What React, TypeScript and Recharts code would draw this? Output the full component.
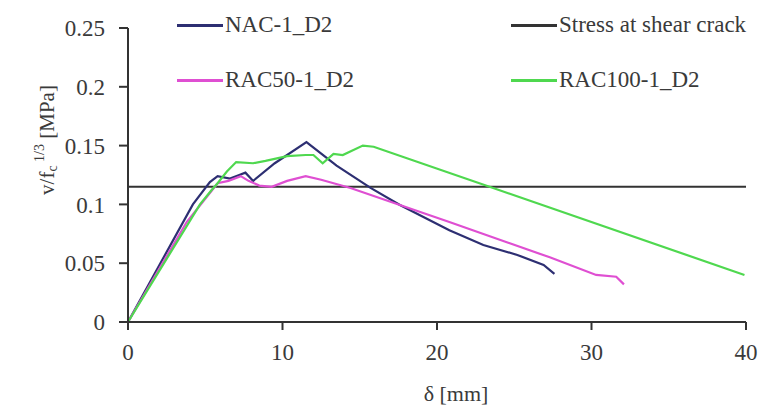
import { LineChart, Line, XAxis, YAxis, ReferenceLine } from "recharts";

// [δ (mm), v/fc^(1/3) (MPa)]
const nacPoints: [number, number][] = [
  [0, 0], [4.2, 0.1], [5.3, 0.119], [5.8, 0.124], [6.6, 0.122], [7.2, 0.125],
  [7.6, 0.127], [8.1, 0.12], [9.5, 0.135], [11.55, 0.153], [13.5, 0.133],
  [15.7, 0.114], [17.6, 0.0995], [20.8, 0.078], [23, 0.0655], [25.2, 0.057],
  [26.9, 0.0485], [27.6, 0.041],
];

const rac50Points: [number, number][] = [
  [0, 0], [3.8, 0.085], [5.8, 0.118], [6.5, 0.12], [7.3, 0.124], [7.8, 0.12],
  [8.5, 0.116], [9.3, 0.115], [10.3, 0.12], [11.5, 0.124], [12.5, 0.121],
  [14.4, 0.114], [20.8, 0.085], [27.3, 0.055], [30.3, 0.04], [31.6, 0.0385],
  [32.1, 0.032],
];

const rac100Points: [number, number][] = [
  [0, 0], [4.66, 0.1], [5.4, 0.112], [5.8, 0.118], [6.4, 0.128], [7.0, 0.136],
  [8.1, 0.135], [8.9, 0.137], [10.3, 0.141], [11.5, 0.142], [12.0, 0.142],
  [12.6, 0.135], [13.3, 0.143], [13.9, 0.142], [15.2, 0.15], [15.9, 0.149],
  [23.4, 0.115], [39.9, 0.04],
];

const shearCrackStress = 0.115;

const xTicks = [0, 10, 20, 30, 40];
const yTicks = [0, 0.05, 0.1, 0.15, 0.2, 0.25];

const series = [
  { name: "NAC-1_D2", color: "#2d2f72", points: nacPoints },
  { name: "RAC50-1_D2", color: "#df4fd2", points: rac50Points },
  { name: "RAC100-1_D2", color: "#4fd84f", points: rac100Points },
];

const legendItems = [
  { name: "NAC-1_D2", color: "#2d2f72", left: 177, top: 25 },
  { name: "Stress at shear crack", color: "#333333", left: 511, top: 25 },
  { name: "RAC50-1_D2", color: "#df4fd2", left: 177, top: 80 },
  { name: "RAC100-1_D2", color: "#4fd84f", left: 511, top: 80 },
];

const font = '"Liberation Serif", "Times New Roman", serif';
const textColor = "#3a3a3a";

function XLabel(props: any) {
  const vb = props.viewBox;
  return (
    <text
      x={vb.x + vb.width / 2 + 19}
      y={vb.y + 71}
      textAnchor="middle"
      dominantBaseline="central"
      fontFamily={font}
      fontSize={22}
      fill={textColor}
    >
      δ [mm]
    </text>
  );
}

function YLabel(props: any) {
  const vb = props.viewBox;
  const cx = vb.x + 19;
  const cy = vb.y + 112;
  return (
    <text
      x={cx}
      y={cy}
      transform={`rotate(-90, ${cx}, ${cy})`}
      textAnchor="middle"
      dominantBaseline="central"
      fontFamily={font}
      fontSize={21}
      fill={textColor}
    >
      v/f
      <tspan fontSize={14} dy={5}>c</tspan>
      <tspan fontSize={14} dy={-13}>{" 1/3"}</tspan>
      <tspan dy={8}>{"  [MPa]"}</tspan>
    </text>
  );
}

export default function App() {
  return (
    <div style={{ position: "absolute", left: 0, top: 0, width: 766, height: 411, background: "#fff" }}>
      <LineChart
        width={766}
        height={411}
        margin={{ top: 28, right: 20, left: 28, bottom: 29 }}
      >
        <XAxis
          type="number"
          dataKey="d"
          domain={[0, 40]}
          ticks={xTicks}
          height={60}
          tickSize={8}
          tickMargin={14}
          stroke="#333"
          strokeWidth={2}
          tick={{ fill: textColor, fontFamily: font, fontSize: 23 }}
          label={{ content: (p: any) => <XLabel {...p} /> }}
        />
        <YAxis
          type="number"
          dataKey="v"
          domain={[0, 0.25]}
          ticks={yTicks}
          width={100}
          tickSize={9}
          tickMargin={14}
          stroke="#333"
          strokeWidth={2}
          tick={{ fill: textColor, fontFamily: font, fontSize: 23 }}
          label={{ content: (p: any) => <YLabel {...p} /> }}
        />
        <ReferenceLine y={shearCrackStress} stroke="#333" strokeWidth={2} />
        {series.map((s) => (
          <Line
            key={s.name}
            name={s.name}
            data={s.points.map(([d, v]) => ({ d, v }))}
            dataKey="v"
            type="linear"
            stroke={s.color}
            strokeWidth={2.2}
            dot={false}
            activeDot={false}
            isAnimationActive={false}
          />
        ))}
      </LineChart>
      {legendItems.map((item) => (
        <div
          key={item.name}
          style={{
            position: "absolute",
            left: item.left,
            top: item.top - 14,
            height: 28,
            display: "flex",
            alignItems: "center",
            fontFamily: font,
            fontSize: 23,
            color: textColor,
            whiteSpace: "nowrap",
          }}
        >
          <span style={{ display: "inline-block", width: 46, height: 3, background: item.color, marginRight: 2 }} />
          {item.name}
        </div>
      ))}
    </div>
  );
}
